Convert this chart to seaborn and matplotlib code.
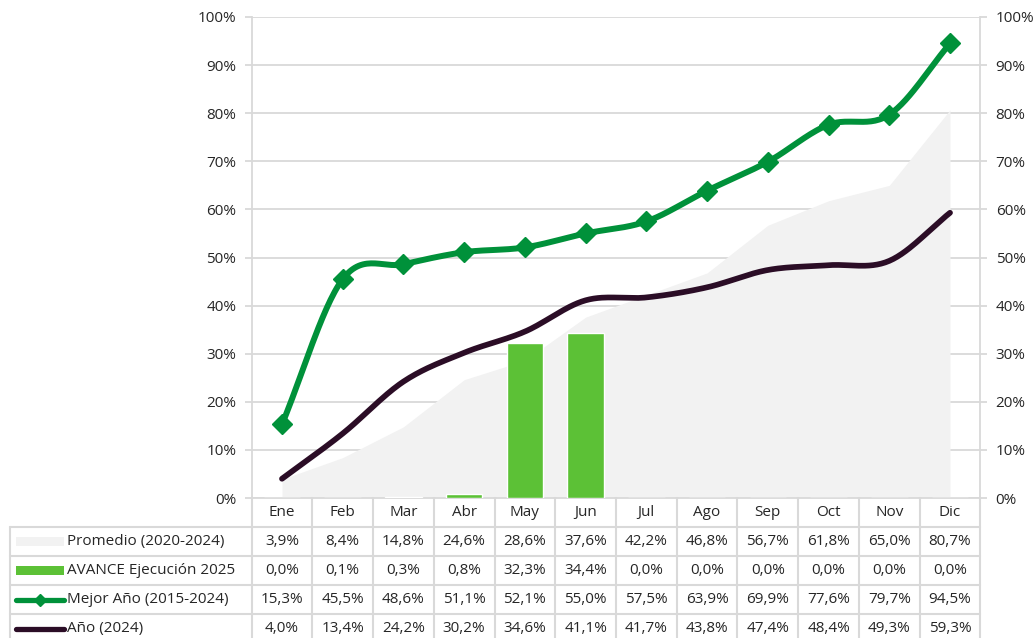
import numpy as np
import pandas as pd
import matplotlib
matplotlib.use("Agg")
import matplotlib.pyplot as plt
import seaborn as sns

meses = ["Ene", "Feb", "Mar", "Abr", "May", "Jun", "Jul", "Ago", "Sep", "Oct", "Nov", "Dic"]
promedio = [3.9, 8.4, 14.8, 24.6, 28.6, 37.6, 42.2, 46.8, 56.7, 61.8, 65.0, 80.7]
avance = [0.0, 0.1, 0.3, 0.8, 32.3, 34.4, 0.0, 0.0, 0.0, 0.0, 0.0, 0.0]
mejor = [15.3, 45.5, 48.6, 51.1, 52.1, 55.0, 57.5, 63.9, 69.9, 77.6, 79.7, 94.5]
anio = [4.0, 13.4, 24.2, 30.2, 34.6, 41.1, 41.7, 43.8, 47.4, 48.4, 49.3, 59.3]

nombres = ["Promedio (2020-2024)", "AVANCE Ejecución 2025", "Mejor Año (2015-2024)", "Año (2024)"]

c_area = "#F2F2F2"
c_bar = "#5CC136"
c_mejor = "#00913A"
c_anio = "#2B0D26"
c_grid = "#D9D9D9"
c_text = "#262626"
fs = 11

sns.set_theme(style="white")
plt.rcParams["font.family"] = ["Open Sans", "DejaVu Sans"]


def suavizar(y, n=30):
    # curva tipo Excel (Catmull-Rom) entre los puntos mensuales
    y = np.asarray(y, dtype=float)
    p = np.concatenate([[2 * y[0] - y[1]], y, [2 * y[-1] - y[-2]]])
    xs, ys = [], []
    for i in range(len(y) - 1):
        t = np.linspace(0, 1, n, endpoint=False)
        p0, p1, p2, p3 = p[i], p[i + 1], p[i + 2], p[i + 3]
        yy = 0.5 * ((2 * p1) + (-p0 + p2) * t + (2 * p0 - 5 * p1 + 4 * p2 - p3) * t ** 2
                    + (-p0 + 3 * p1 - 3 * p2 + p3) * t ** 3)
        xs.extend(i + t)
        ys.extend(yy)
    xs.append(len(y) - 1)
    ys.append(y[-1])
    return np.array(xs), np.array(ys)


W, H = 1036, 638
fig = plt.figure(figsize=(W / 100, H / 100), dpi=100)
x0, x1 = 251.6, 980.4
ytop, ybot = 17, 498
ax = fig.add_axes([x0 / W, (H - ybot) / H, (x1 - x0) / W, (ybot - ytop) / H])

x = np.arange(len(meses))
ax.fill_between(x, promedio, 0, color=c_area, lw=0, zorder=2)
sns.barplot(x=x, y=avance, color=c_bar, width=0.6, saturation=1, ax=ax, zorder=3, native_scale=True)

xs, ys = suavizar(mejor)
sns.lineplot(x=xs, y=ys, color=c_mejor, lw=4.3, sort=False, ax=ax, zorder=5)
ax.plot(x, mejor, ls="none", marker="D", ms=10.5, color=c_mejor, zorder=6)
xs, ys = suavizar(anio)
sns.lineplot(x=xs, y=ys, color=c_anio, lw=4.1, sort=False, ax=ax, zorder=4)

ax.set_xlim(-0.5, len(meses) - 0.5)
ax.set_ylim(0, 100)
ticks = np.arange(0, 101, 10)
ax.set_yticks(ticks)
ax.set_yticklabels([f"{t}%" for t in ticks])
ax.set_xticks([])
ax.set_xlabel("")
ax.grid(axis="y", color=c_grid, lw=1.3, zorder=0)
ax.set_axisbelow(True)
for s in ["left", "right", "bottom"]:
    ax.spines[s].set_color(c_grid)
    ax.spines[s].set_linewidth(1.3)
ax.spines["top"].set_visible(False)
ax.tick_params(axis="y", length=5, color=c_grid, width=1.3, labelsize=fs, labelcolor=c_text, pad=6, left=True)

ax2 = ax.twinx()
ax2.set_ylim(0, 100)
ax2.set_yticks(ticks)
ax2.set_yticklabels([f"{t}%" for t in ticks])
ax2.tick_params(axis="y", length=5, color=c_grid, width=1.3, labelsize=fs, labelcolor=c_text, pad=6, right=True)
for s in ax2.spines.values():
    s.set_visible(False)

# tabla de datos
tx0 = 10
rowh = 29
tab = fig.add_axes([tx0 / W, 0, (x1 - tx0) / W, (H - ybot) / H])
ppu = (x1 - x0) / len(meses)
tab.set_xlim(-0.5 - (x0 - tx0) / ppu, len(meses) - 0.5)
tab.set_ylim((H - ybot) / rowh, 0)
tab.axis("off")
lab_left = -0.5 - (x0 - tx0) / ppu

lk = dict(color=c_grid, lw=1.5, clip_on=False, zorder=1)
# verticales
for i in range(len(meses) + 1):
    tab.plot([i - 0.5, i - 0.5], [0, 6], **lk)
tab.plot([lab_left, lab_left], [1, 6], **lk)
# horizontales
for r in range(1, 6):
    tab.plot([lab_left, len(meses) - 0.5], [r, r], **lk)

for i, m in enumerate(meses):
    tab.text(i, 0.5, m, ha="center", va="center", fontsize=fs, color=c_text)

series = [promedio, avance, mejor, anio]
for r, (nom, vals) in enumerate(zip(nombres, series), start=1):
    for i, v in enumerate(vals):
        tab.text(i, r + 0.5, f"{v:.1f}%".replace(".", ","), ha="center", va="center",
                 fontsize=fs, color=c_text)
    tab.text(lab_left + 57 / ppu, r + 0.5, nom, ha="left", va="center", fontsize=fs, color=c_text)

kx0 = lab_left + 6 / ppu
kx1 = lab_left + 54 / ppu
tab.fill_between([kx0, kx1], 1.35, 1.65, color=c_area, lw=0)
tab.fill_between([kx0, kx1], 2.35, 2.65, color=c_bar, lw=0)
tab.plot([kx0, kx1], [3.5, 3.5], color=c_mejor, lw=3.8, solid_capstyle="round")
tab.plot([(kx0 + kx1) / 2], [3.5], marker="D", ms=6, color=c_mejor)
tab.plot([kx0, kx1], [4.5, 4.5], color=c_anio, lw=3.8, solid_capstyle="round")

fig.savefig("out.png", dpi=100)
